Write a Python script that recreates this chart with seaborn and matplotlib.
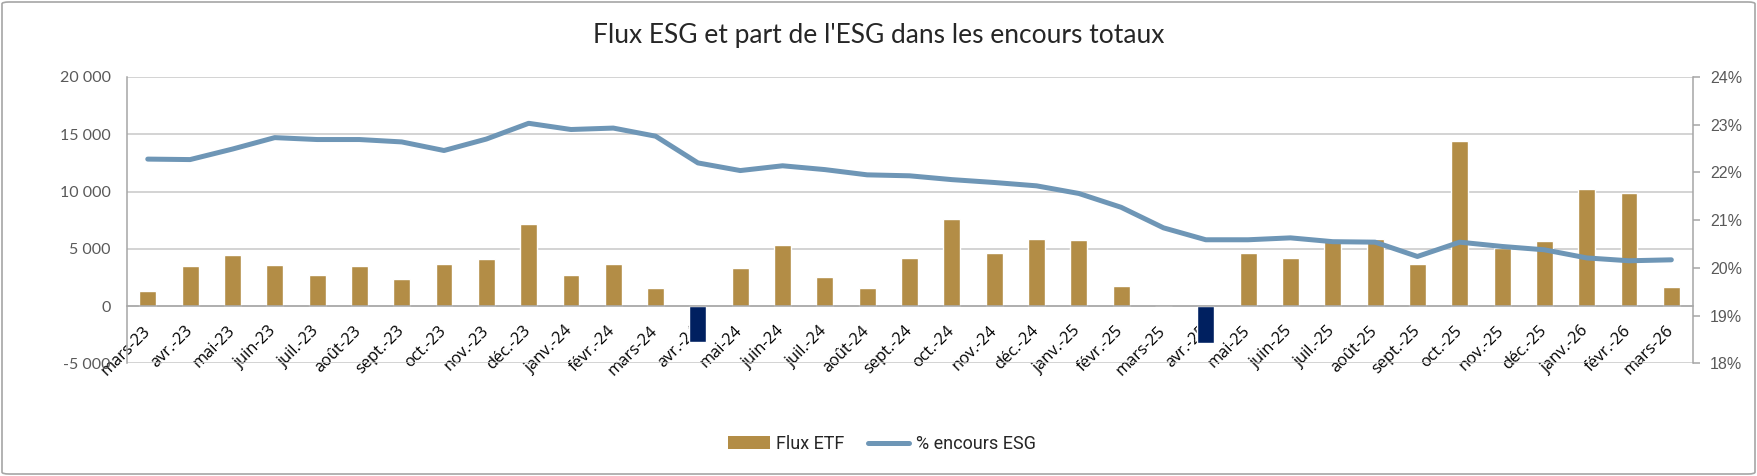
import matplotlib
matplotlib.use("Agg")
import matplotlib.pyplot as plt
import matplotlib.ticker as mticker
from matplotlib.patches import FancyBboxPatch, Patch
from matplotlib.lines import Line2D
import numpy as np
import pandas as pd
import seaborn as sns

months = ["mars-23", "avr.-23", "mai-23", "juin-23", "juil.-23", "août-23", "sept.-23",
          "oct.-23", "nov.-23", "déc.-23", "janv.-24", "févr.-24", "mars-24", "avr.-24",
          "mai-24", "juin-24", "juil.-24", "août-24", "sept.-24", "oct.-24", "nov.-24",
          "déc.-24", "janv.-25", "févr.-25", "mars-25", "avr.-25", "mai-25", "juin-25",
          "juil.-25", "août-25", "sept.-25", "oct.-25", "nov.-25", "déc.-25", "janv.-26",
          "févr.-26", "mars-26"]
flux_etf = [1350, 3500, 4450, 3600, 2700, 3500, 2350, 3700, 4100, 7200,
            2700, 3700, 1600, -3100, 3350, 5350, 2550, 1600, 4200, 7600, 4650, 5850,
            5750, 1750, 0, -3200, 4650, 4200, 5850, 5850, 3700, 14450, 5050, 5700,
            10250, 9900, 1650]
pct_esg = [22.28, 22.27, 22.49, 22.73, 22.69, 22.69, 22.64, 22.46, 22.70, 23.03,
           22.90, 22.93, 22.76, 22.20, 22.04, 22.14, 22.06, 21.95, 21.93, 21.85, 21.79, 21.72,
           21.56, 21.27, 20.84, 20.59, 20.59, 20.63, 20.55, 20.54, 20.24, 20.54, 20.45, 20.38,
           20.21, 20.15, 20.17]

title = "Flux ESG et part de l'ESG dans les encours totaux"
bar_label = "Flux ETF"
line_label = "% encours ESG"

GOLD = "#B38D46"
NAVY = "#002060"
BLUE = "#6E96B6"
GRID = "#C8C8C8"
AXC = "#A6A6A6"
TXT = "#595959"

sns.set_theme(style="white")
plt.rcParams["font.family"] = ["Lato", "DejaVu Sans"]

df = pd.DataFrame({"mois": months, "flux": flux_etf, "pct": pct_esg})
df["signe"] = np.where(df["flux"] < 0, "neg", "pos")
df["x"] = np.arange(len(df))

fig = plt.figure(figsize=(17.57, 4.76), dpi=100)
ax = fig.add_axes([126.6 / 1757, 1 - 363.4 / 476, (1692.5 - 126.6) / 1757, (363.4 - 77.0) / 476])

sns.barplot(data=df, x="mois", y="flux", hue="signe", palette={"pos": GOLD, "neg": NAVY},
            dodge=False, width=0.4, legend=False, ax=ax, saturation=1, zorder=2)

ax.set_ylim(-5000, 20000)
ax.set_xlim(-0.5, len(months) - 0.5)
ax.set_yticks(np.arange(-5000, 20001, 5000))
ax.yaxis.set_major_formatter(mticker.FuncFormatter(
    lambda v, p: ("-" if v < 0 else "") + f"{abs(int(v)):,}".replace(",", " ")))
ax.grid(axis="y", color=GRID, linewidth=1.1, zorder=0)
ax.grid(axis="x", visible=False)
ax.set_axisbelow(True)
ax.set_xlabel("")
ax.set_ylabel("")

for s in ["top", "right"]:
    ax.spines[s].set_visible(False)
ax.spines["left"].set_color(AXC)
ax.spines["left"].set_linewidth(1.1)
ax.spines["bottom"].set_position(("data", 0))
ax.spines["bottom"].set_color(AXC)
ax.spines["bottom"].set_linewidth(1.1)
ax.spines["bottom"].set_zorder(3)

ax.tick_params(axis="y", length=0, pad=11.5, labelsize=11.5, labelcolor=TXT)
ax.set_xticks(np.arange(len(months)))
ax.set_xticklabels(months, rotation=45, ha="right", va="center", rotation_mode="anchor",
                   fontsize=11.8, color="#000000", family=["Open Sans", "DejaVu Sans"])
ax.tick_params(axis="x", which="major", length=0, pad=16)
ax.set_xticks(np.arange(-0.5, len(months), 1.0), minor=True)
ax.tick_params(axis="x", which="minor", length=5, width=1.1, color=AXC, direction="out")

ax2 = ax.twinx()
sns.lineplot(x=df["x"], y=df["pct"], ax=ax2, color=BLUE, linewidth=3.6, zorder=4,
             solid_capstyle="round", solid_joinstyle="round")
ax2.set_ylim(18, 24)
ax2.set_yticks(np.arange(18, 24.01, 1))
ax2.yaxis.set_major_formatter(mticker.FuncFormatter(lambda v, p: f"{v:.0f}%"))
ax2.set_ylabel("")
ax2.set_xlabel("")
for s in ["top", "left", "bottom"]:
    ax2.spines[s].set_visible(False)
ax2.spines["right"].set_color(AXC)
ax2.spines["right"].set_linewidth(1.1)
ax2.tick_params(axis="y", length=5, width=1.1, color=AXC, direction="out", pad=7.5,
                labelsize=11.5, labelcolor=TXT)
for lab in ax2.get_yticklabels():
    lab.set_family(["Liberation Sans", "DejaVu Sans"])
ax2.grid(False)
ax2.set_xlim(-0.5, len(months) - 0.5)

fig.text(0.5, 1 - 35 / 476, title, ha="center", va="center", fontsize=19, color="#262626",
         family=["Lato", "DejaVu Sans"])

handles = [Patch(facecolor=GOLD, edgecolor="none", label=bar_label),
           Line2D([0], [0], color=BLUE, linewidth=3.6, solid_capstyle="round", label=line_label)]
fig.legend(handles=handles, loc="center", bbox_to_anchor=(882 / 1757, 1 - 444 / 476), ncol=2,
           frameon=False, prop={"family": ["Roboto", "DejaVu Sans"], "size": 13},
           handlelength=2.3, handletextpad=0.35, columnspacing=1.3, labelcolor="#262626")

border = FancyBboxPatch((2 / 1757, 2 / 476), 1 - 4 / 1757, 1 - 4 / 476,
                        boxstyle="round,pad=0,rounding_size=0.004", transform=fig.transFigure,
                        facecolor="none", edgecolor=AXC, linewidth=1.2)
fig.patches.append(border)

fig.savefig("out.png", dpi=100)
